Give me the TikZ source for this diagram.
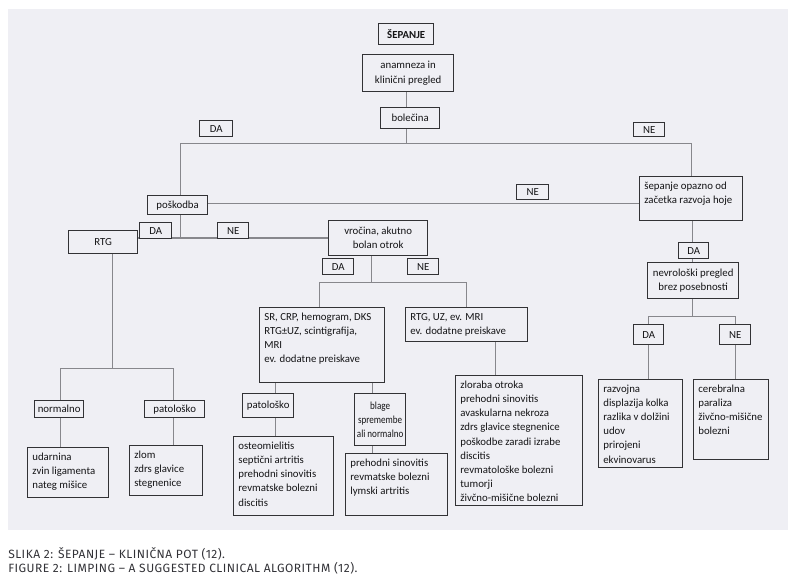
\documentclass[tikz,border=0pt]{standalone}
\usepackage{fontspec}
\usepackage{graphicx}
\setmainfont{Carlito}
\newfontfamily\capfont[LetterSpace=4]{Fira Sans}
\usetikzlibrary{calc}
\pgfdeclarelayer{bg}
\pgfdeclarelayer{lines}
\pgfsetlayers{bg,lines,main}
\definecolor{bgc}{RGB}{239,239,244}
\definecolor{boxc}{RGB}{50,50,53}
\definecolor{linec}{RGB}{135,135,140}
\definecolor{txtc}{RGB}{20,20,22}
\definecolor{capc}{RGB}{50,50,55}
\tikzset{
  box/.style={draw=boxc, line width=1pt, fill=bgc, text=txtc,
    font=\fontsize{8.1}{10.6}\selectfont},
  conn/.style={draw=linec, line width=1pt},
  captxt/.style={anchor=base west, inner sep=0pt, text=capc,
    font=\capfont\fontsize{9}{10}\selectfont}
}
\newcommand\nrw[1]{\scalebox{0.84}[1]{#1}}
% centred box from corners (px)
\newcommand\cbox[6]{%
  \pgfmathsetmacro\cbW{(#4-#2)*0.75}%
  \pgfmathsetmacro\cbH{(#5-#3)*0.75}%
  \node[box, inner sep=0pt, minimum width=\cbW pt, minimum height=\cbH pt,
    align=center, anchor=north west] (#1) at (#2,#3) {#6};}
% top-left aligned box from corners (px)
\newcommand\tbox[6]{%
  \pgfmathsetmacro\tbW{(#4-#2)*0.75-7}%
  \pgfmathsetmacro\tbH{(#5-#3)*0.75-8}%
  \node[box, inner xsep=3.5pt, inner ysep=4pt, anchor=north west] (#1) at (#2,#3)
    {\parbox[c][\tbH pt][t]{\tbW pt}{\raggedright #6}};}
\begin{document}
\begin{tikzpicture}[x=0.75pt,y=-0.75pt]
\useasboundingbox (0,0) rectangle (800,581);
\begin{pgfonlayer}{bg}
\fill[bgc] (8,9) rectangle (788,530);
\end{pgfonlayer}

\cbox{sep}{378}{23}{433}{44}{\textbf{ŠEPANJE}}
\cbox{anam}{362}{54}{453}{91}{anamneza in\\klinični pregled}
\cbox{bol}{380}{107}{439}{128}{bolečina}
\cbox{da1}{199}{120}{232}{136}{DA}
\cbox{ne1}{633}{122}{664}{136}{NE}
\cbox{pos}{147}{195}{207}{214}{poškodba}
\cbox{ne2}{516}{184}{548}{199}{NE}
\tbox{sep2}{639}{176}{742}{220}{šepanje opazno od\\začetka razvoja hoje}
\cbox{rtg}{68}{230}{137}{253}{RTG}
\cbox{da2}{139}{222}{171}{238}{DA}
\cbox{ne3}{217}{222}{248}{238}{NE}
\cbox{vro}{328}{220}{427}{255}{vročina, akutno\\bolan otrok}
\cbox{da4}{322}{258}{353}{274}{DA}
\cbox{ne4}{407}{258}{438}{274}{NE}
\tbox{sr}{259}{307}{384}{382}{SR, CRP, hemogram, DKS\\RTG±UZ, scintigrafija,\\MRI\\ev. dodatne preiskave}
\tbox{ruz}{405}{307}{527}{341}{RTG, UZ, ev. MRI\\ev. dodatne preiskave}
\cbox{norm}{34}{400}{83}{417}{normalno}
\cbox{pat1}{144}{400}{204}{417}{patološko}
\tbox{uda}{27}{447}{108}{497}{udarnina\\zvin ligamenta\\nateg mišice}
\tbox{zlom}{129}{445}{202}{495}{zlom\\zdrs glavice\\stegnenice}
\cbox{pat2}{242}{393}{293}{417}{patološko}
\tbox{ost}{233}{436}{333}{515}{osteomielitis\\septični artritis\\prehodni sinovitis\\revmatske bolezni\\discitis}
\cbox{bla}{354}{393}{405}{445}{\nrw{blage}\\\nrw{spremembe}\\\nrw{ali normalno}}
\tbox{pre}{345}{453}{447}{515}{prehodni sinovitis\\revmatske bolezni\\lymski artritis}
\tbox{zlo}{455}{375}{582}{505}{zloraba otroka\\prehodni sinovitis\\avaskularna nekroza\\zdrs glavice stegnenice\\poškodbe zaradi izrabe\\discitis\\revmatološke bolezni\\tumorji\\živčno-mišične bolezni}
\cbox{da5}{678}{242}{708}{258}{DA}
\cbox{nev}{647}{262}{738}{298}{nevrološki pregled\\brez posebnosti}
\cbox{da6}{633}{324}{663}{344}{DA}
\cbox{ne6}{719}{324}{750}{344}{NE}
\tbox{raz}{598}{379}{682}{467}{razvojna\\displazija kolka\\razlika v dolžini\\udov\\prirojeni\\ekvinovarus}
\tbox{cer}{693}{379}{768}{459}{cerebralna\\paraliza\\živčno-mišične\\bolezni}

\node[captxt] (cap1) at (8,558) {SLIKA 2: ŠEPANJE – KLINIČNA POT (12).};
\node[captxt] (cap2) at (8,572) {FIGURE 2: LIMPING – A SUGGESTED CLINICAL ALGORITHM (12).};

\begin{pgfonlayer}{lines}
% top
\draw[conn] ($(anam.south)+(-1.5,0)$) coordinate (a1) -- (a1 |- bol.north);
\draw[conn] ($(bol.south)+(-3.5,0)$) coordinate (b1) -- ++(0,14) coordinate (cT);
\draw[conn] ($(pos.north)+(3,0)$) |- (cT) -| ($(sep2.north)+(0.5,0)$);
% poskodba -> NE -> sepanje
\draw[conn] ($(pos.east)+(0,-1.5)$) coordinate (p1) -- (p1 -| sep2.west);
% poskodba down, RTG <-> vrocina
\draw[conn] ($(pos.south)+(3,0)$) coordinate (p2) -- (p2 |- vro.west);
\draw[conn] (rtg.east |- vro.west) -- (vro.west);
% RTG branch
\draw[conn] ($(rtg.south)+(9.5,0)$) coordinate (r1) -- ++(0,114) coordinate (jR);
\draw[conn] ($(norm.north)+(1.5,0)$) |- (jR) -| ($(pat1.north)+(-1,0)$);
\draw[conn] ($(norm.south)+(1.5,0)$) coordinate (n1) -- (n1 |- uda.north);
\draw[conn] ($(pat1.south)+(-1,0)$) coordinate (n2) -- (n2 |- zlom.north);
% vrocina branch
\draw[conn] ($(vro.south)+(-6.5,0)$) coordinate (v1) -- ++(0,26) coordinate (jV);
\draw[conn] ($(sr.north)+(-2.5,0)$) |- (jV) -| (ruz.north);
\draw[conn] ($(pat2.north)+(7.5,0)$) coordinate (s1) -- (s1 |- sr.south);
\draw[conn] ($(pat2.south)+(7.5,0)$) coordinate (s2) -- (s2 |- ost.north);
\draw[conn] ($(bla.north)+(-7.5,0)$) coordinate (s3) -- (s3 |- sr.south);
\draw[conn] ($(bla.south)+(-7.5,0)$) coordinate (s4) -- (s4 |- pre.north);
\draw[conn] ($(ruz.south)+(29,0)$) coordinate (u1) -- (u1 |- zlo.north);
% right branch
\draw[conn] ($(da5.north)+(-1,0)$) coordinate (d1) -- (d1 |- sep2.south);
\draw[conn] ($(da5.south)+(-1,0)$) coordinate (d2) -- (d2 |- nev.north);
\draw[conn] ($(nev.south)+(-0.5,0)$) coordinate (e1) -- ++(0,17) coordinate (jN);
\draw[conn] (da6.north) |- (jN) -| (ne6.north);
\draw[conn] (da6.south) -- (da6.south |- raz.north);
\draw[conn] (ne6.south) -- (ne6.south |- cer.north);
\end{pgfonlayer}
\end{tikzpicture}
\end{document}
